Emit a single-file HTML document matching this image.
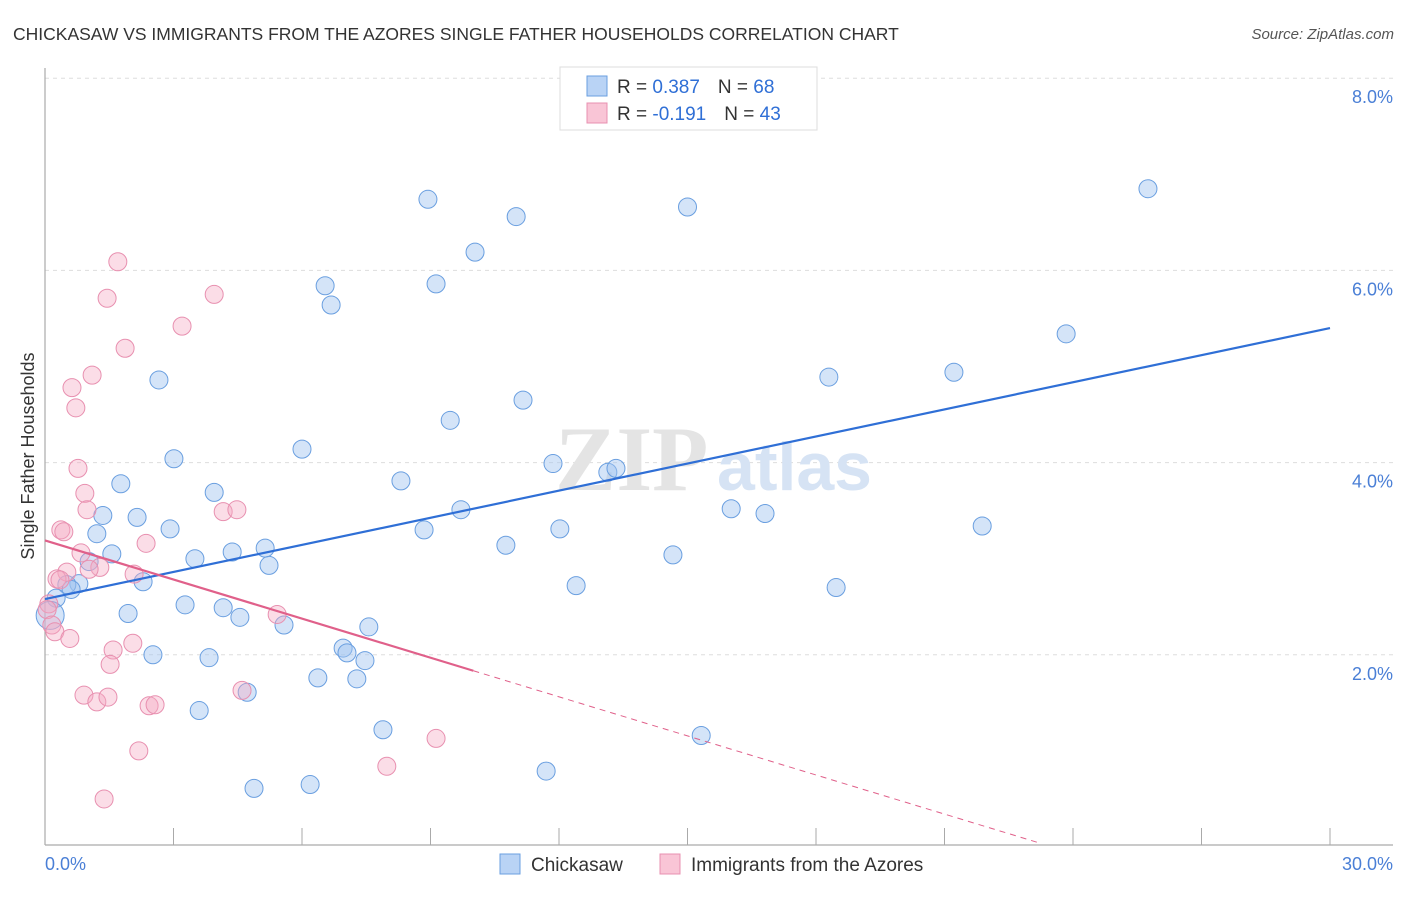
<!DOCTYPE html>
<html><head><meta charset="utf-8"><style>
body{margin:0;background:#fff;font-family:"Liberation Sans",sans-serif;}
</style></head><body>
<svg id="chart" width="1406" height="892" xmlns="http://www.w3.org/2000/svg" font-family="Liberation Sans, sans-serif">
<text x="13" y="40" font-size="17.5" fill="#333">CHICKASAW VS IMMIGRANTS FROM THE AZORES SINGLE FATHER HOUSEHOLDS CORRELATION CHART</text>
<text x="1394" y="39" font-size="15" fill="#555" text-anchor="end" font-style="italic">Source: ZipAtlas.com</text>
<g id="grid"></g>
<text x="555" y="490" font-size="92" fill="#e4e4e4" font-family="Liberation Serif, serif" font-weight="bold">ZIP</text>
<text x="717" y="490" font-size="68" fill="#d6e3f4" font-weight="bold">atlas</text>
<line x1="45" y1="68" x2="45" y2="845" stroke="#aaa" stroke-width="1.2"/>
<line x1="45" y1="845" x2="1393" y2="845" stroke="#aaa" stroke-width="1.2"/>
<g id="ticks"></g>
<g id="pts"></g>
<g id="lines"></g>
<text transform="translate(34,456) rotate(-90)" font-size="18" fill="#333" text-anchor="middle">Single Father Households</text>
<text x="45" y="870" font-size="18" fill="#4a7fd6">0.0%</text>
<text x="1393" y="870" font-size="18" fill="#4a7fd6" text-anchor="end">30.0%</text>
<g>
<rect x="560" y="67" width="257" height="63" fill="#fff" stroke="#ddd"/>
<rect x="587" y="76" width="20" height="20" fill="#b9d3f5" stroke="#6a9fe0"/>
<rect x="587" y="103" width="20" height="20" fill="#f9c5d6" stroke="#e890b0"/>
<text x="617" y="93" font-size="19" fill="#333">R = <tspan fill="#2f6fd6"> 0.387</tspan><tspan dx="18" fill="#333">N = </tspan><tspan fill="#2f6fd6">68</tspan></text>
<text x="617" y="120" font-size="19" fill="#333">R = <tspan fill="#2f6fd6">-0.191</tspan><tspan dx="18" fill="#333">N = </tspan><tspan fill="#2f6fd6">43</tspan></text>
</g>
<g>
<rect x="500" y="854" width="20" height="20" fill="#b9d3f5" stroke="#6a9fe0"/>
<text x="531" y="871" font-size="19" fill="#333">Chickasaw</text>
<rect x="660" y="854" width="20" height="20" fill="#f9c5d6" stroke="#e890b0"/>
<text x="691" y="871" font-size="19" fill="#333">Immigrants from the Azores</text>
</g>
</svg>
<script>
const yTicks=[2,4,6,8];
const yTickLabels=["2.0%","4.0%","6.0%","8.0%"];
const xTicks=[0,3,6,9,12,15,18,21,24,27,30];
const blueX=[8.94,11.0,15.0,25.75,10.04,6.54,9.13,6.68,23.84,2.66,18.30,21.22,11.16,9.46,6.0,3.01,11.86,13.14,13.33,1.77,8.31,3.95,16.02,16.81,9.71,1.35,2.15,2.92,12.02,8.85,21.88,1.21,10.76,5.14,4.37,3.50,1.56,14.66,5.23,1.03,2.29,0.79,12.40,18.47,0.51,0.61,0.26,0.12,3.27,1.94,4.16,4.55,5.58,7.56,6.96,7.05,2.52,3.83,7.47,6.37,7.28,4.72,3.60,7.89,15.32,11.70,4.88,6.19];
const blueY=[6.74,6.56,6.66,6.85,6.19,5.84,5.86,5.64,5.34,4.86,4.89,4.94,4.65,4.44,4.14,4.04,3.99,3.90,3.94,3.78,3.81,3.69,3.52,3.47,3.51,3.45,3.43,3.31,3.31,3.30,3.34,3.26,3.14,3.11,3.07,3.0,3.05,3.04,2.93,2.97,2.76,2.74,2.72,2.70,2.73,2.68,2.59,2.41,2.52,2.43,2.49,2.39,2.31,2.29,2.07,2.02,2.0,1.97,1.94,1.76,1.75,1.61,1.42,1.22,1.16,0.79,0.61,0.65];
const pinkX=[1.70,1.45,3.95,3.20,1.87,1.10,0.63,0.72,0.77,0.93,0.98,4.16,4.48,0.37,0.44,2.36,0.84,1.28,1.03,2.08,0.51,0.28,0.35,0.09,0.05,0.16,0.23,0.58,1.59,2.05,1.52,5.42,4.60,0.91,1.21,1.47,2.43,2.57,2.19,7.98,9.13,1.38];
const pinkY=[6.09,5.71,5.75,5.42,5.19,4.91,4.78,4.57,3.94,3.68,3.51,3.49,3.51,3.30,3.28,3.16,3.06,2.91,2.89,2.84,2.86,2.79,2.78,2.53,2.47,2.31,2.24,2.17,2.05,2.12,1.90,2.42,1.63,1.58,1.51,1.56,1.47,1.48,1.0,0.84,1.13,0.50];
const blueTrend=[2.58,5.40];
const pinkTrend=[3.19,-0.1356];
const NS="http://www.w3.org/2000/svg";
const sx=v=>45+v/30*1285, sy=v=>847-v*96.1;
function mk(tag,attrs,parent){const e=document.createElementNS(NS,tag);for(const k in attrs)e.setAttribute(k,attrs[k]);document.getElementById(parent).appendChild(e);return e;}
yTicks.forEach((t,i)=>{
 const l=mk('line',{x1:45,x2:1393,y1:sy(t),y2:sy(t),stroke:'#ddd','stroke-dasharray':'4,4'},'grid');
 
 
 const tx=mk('text',{x:1393,y:sy(t)+25,'font-size':18,fill:'#4a7fd6','text-anchor':'end'},'grid');
 tx.textContent=yTickLabels[i];
 
 
});
xTicks.forEach(t=>{
 const l=mk('line',{x1:sx(t),x2:sx(t),y1:828,y2:845,stroke:'#aaa'},'ticks');
 
 
});
blueX.forEach((x,i)=>{
 const c=mk('circle',{cx:sx(x),cy:sy(blueY[i]),r:i==47?14:9,fill:'rgba(160,196,240,0.45)',stroke:'#6a9fe0','stroke-width':1},'pts');
 
 
});
pinkX.forEach((x,i)=>{
 const c=mk('circle',{cx:sx(x),cy:sy(pinkY[i]),r:9,fill:'rgba(244,170,195,0.4)',stroke:'#e890b0','stroke-width':1},'pts');
 
 
});
const bl=mk('line',{x1:sx(0),y1:sy(blueTrend[0]),x2:sx(30),y2:sy(blueTrend[1]),stroke:'#2f6fd6','stroke-width':2.2},'lines');


const pf=x=>pinkTrend[0]+pinkTrend[1]*x;
const pl=mk('line',{x1:sx(0),y1:sy(pf(0)),x2:sx(10),y2:sy(pf(10)),stroke:'#e0608a','stroke-width':2.2},'lines');


const pd=mk('line',{x1:sx(10),y1:sy(pf(10)),x2:sx(23.2),y2:sy(pf(23.2)),stroke:'#e0608a','stroke-width':1,'stroke-dasharray':'6,5'},'lines');


</script>
</body></html>
